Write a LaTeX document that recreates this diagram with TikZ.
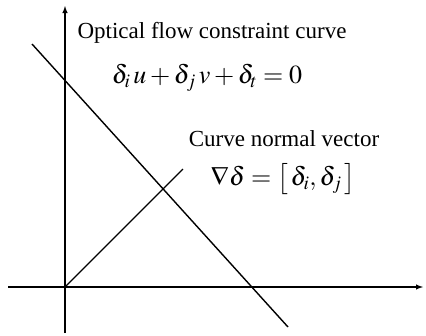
\documentclass[tikz,border=0pt]{standalone}
\usepackage{mathptmx}
\usepackage{fontspec}
\setmainfont{Liberation Serif}
\usetikzlibrary{arrows}
\usetikzlibrary{positioning}
\usetikzlibrary{calc}

\begin{document}
\begin{tikzpicture}[x=1pt,y=-1pt]
	\tikzstyle{axis} = [line width=1.4pt, -latex]
	\tikzstyle{curve} = [line width=1.4pt]
	\tikzstyle{label} = [font=\fontsize{23}{27}\selectfont, inner sep=0pt]
	\tikzstyle{formula} = [font=\fontsize{26}{30}\selectfont, inner sep=0pt]
	\useasboundingbox (0,0) rectangle (426,335);
	% axes
	\coordinate (origin) at (65, 287);
	\coordinate (ybottom) at (65, 333);
	\coordinate (ytop) at (65, 6);
	\coordinate (xleft) at (8, 287);
	\coordinate (xright) at (423, 287);
	\draw[axis] (ybottom) -- (ytop);
	\draw[axis] (xleft) -- (xright);
	% constraint line and its normal
	\coordinate (linestart) at (32, 44);
	\coordinate (lineend) at (288, 327);
	\coordinate (normaltip) at (183, 169);
	\draw[curve] (linestart) -- (lineend);
	\draw[curve] (origin) -- (normaltip);
	% texts
	\node (constraint)[label] at (212, 33) {Optical flow constraint curve};
	\node (constrainteq)[formula] at (207, 78) {$\delta_i\,u+\delta_j\,v+\delta_t=0$};
	\node (normal)[label] at (284, 139) {Curve normal vector};
	\node (normaleq)[formula] at (283, 179) {$\nabla\delta=\big[\,\delta_i,\delta_j\,\big]$};
\end{tikzpicture}
\end{document}
